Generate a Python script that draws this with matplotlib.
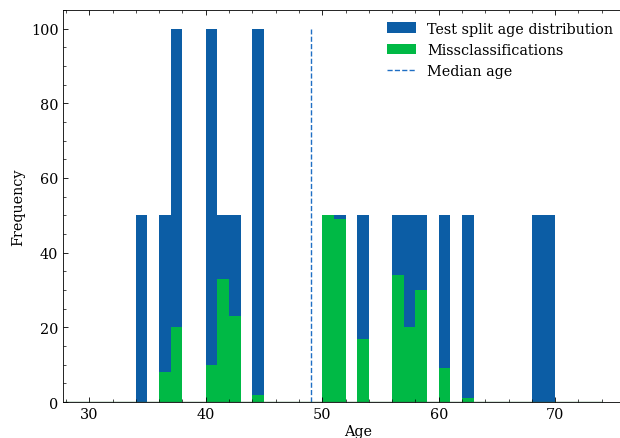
import numpy as np
import matplotlib.pyplot as plt

# bin left edges (age, width 1) and heights
test_bins = [34, 36, 37, 40, 41, 42, 44, 50, 51, 53, 56, 57, 58, 60, 62, 68, 69]
test_freq = [50, 50, 100, 100, 50, 50, 100, 50, 50, 50, 50, 50, 50, 50, 50, 50, 50]

miss_bins = [36, 37, 40, 41, 42, 44, 50, 51, 53, 56, 57, 58, 60, 62]
miss_freq = [8, 20, 10, 33, 23, 2, 50, 49, 17, 34, 20, 30, 9, 1]

median_age = 49

plt.rcParams['font.family'] = 'DejaVu Serif'
plt.rcParams['font.size'] = 10.4
plt.rcParams['xtick.direction'] = 'in'
plt.rcParams['ytick.direction'] = 'in'
plt.rcParams['xtick.top'] = True
plt.rcParams['ytick.right'] = True
plt.rcParams['xtick.minor.visible'] = True
plt.rcParams['ytick.minor.visible'] = True

fig = plt.figure(figsize=(6.2, 4.39), dpi=100)
# axes run past the right edge (reference is cropped there)
ax = fig.add_axes([0.102, 0.082, 0.95, 0.893])

h1 = ax.bar(test_bins, test_freq, width=1, align='edge', color='#0C5DA5',
            label='Test split age distribution')
h2 = ax.bar(miss_bins, miss_freq, width=1, align='edge', color='#00B945',
            label='Missclassifications')
ax.hlines(0, 27.8, 74, colors='#1f6b35', linewidth=1.0, zorder=3)
h3 = ax.vlines(median_age, 0, 100, colors='#1f6fc4', linestyles='dashed',
               linewidth=1, label='Median age')

ax.set_xlim(27.77, 78.33)
ax.set_ylim(0, 105)
ax.set_xlabel('Age', labelpad=2)
ax.set_ylabel('Frequency', labelpad=4)
ax.tick_params(which='major', length=3.5, width=0.6)
ax.tick_params(which='minor', length=2, width=0.5)
for s in ax.spines.values():
    s.set_linewidth(0.6)
ax.legend(handles=[h1, h2, h3], loc='upper right', bbox_to_anchor=(1.008, 0.975),
          bbox_transform=fig.transFigure, frameon=False,
          handlelength=2.0, borderaxespad=0.4)

fig.savefig('out.png', dpi=100)
